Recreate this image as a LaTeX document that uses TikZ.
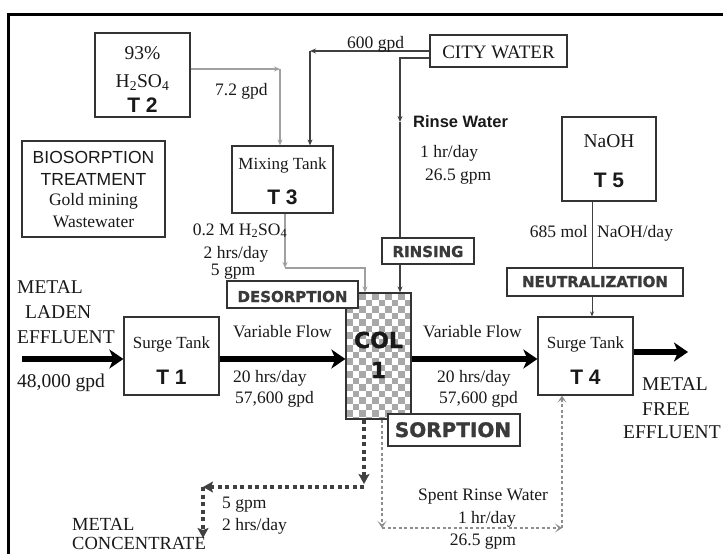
\documentclass[tikz,border=0pt]{standalone}
\usepackage{fontspec}
\setmainfont{Liberation Serif}
\setsansfont{Liberation Sans}
\newfontfamily\heavyfont{DejaVu Sans}[BoldFeatures={FakeBold=1.2}]
\usetikzlibrary{arrows.meta}
\definecolor{lg}{HTML}{A0A0A0}
\definecolor{dg}{HTML}{404040}
\definecolor{bx}{HTML}{333333}
\definecolor{sg}{HTML}{8E8E8E}
\definecolor{cb}{HTML}{A8A8A8}
\definecolor{hv}{HTML}{3A3A3A}
\newcommand\fs[1]{\fontsize{#1}{#1}\selectfont}
\tikzset{
  box/.style={draw=bx, line width=1.2pt, fill=white, inner sep=0pt},
  tx/.style={inner sep=0pt, anchor=base, text=black!90},
  txl/.style={tx, anchor=base west},
  txr/.style={tx, anchor=base east},
  ser/.style={font=\fs{17.5}},
  serb/.style={font=\fs{19.5}},
  tank/.style={font=\sffamily\bfseries\fs{21}},
  heavy/.style={font=\heavyfont\bfseries\fs{15}, text=hv},
  big/.style={line width=6.5pt, -{Stealth[length=14pt,width=19pt,inset=4pt]}},
  grayarr/.style={draw=lg, line width=1.5pt, -{Stealth[length=6pt,width=5pt]}},
  darr/.style={draw=dg, line width=2pt, -{Stealth[length=6pt,width=5pt]}},
  thinarr/.style={draw=dg, line width=1pt, -{Stealth[length=5pt,width=4pt]}},
  concarr/.style={draw=dg, line width=4pt, dash pattern=on 4pt off 3.5pt, -{Stealth[length=10pt,width=11pt,inset=2pt]}},
  spentarr/.style={draw=sg, line width=2.8pt, dash pattern=on 3pt off 2.5pt, -{Stealth[length=7pt,width=9pt,inset=3.5pt]}}
}
\begin{document}
\begin{tikzpicture}[x=1pt,y=-1pt]
\useasboundingbox (0,0) rectangle (723,554);
% frame
\draw[line width=3pt] (8.5,554) -- (8.5,14) -- (723,14);

% boxes
\node[box, minimum width=95pt, minimum height=84pt] (t2) at (142.5,75) {};
\node[box, line width=1.8pt, minimum width=143pt, minimum height=96pt] (bio) at (93.5,189) {};
\node[box, minimum width=101pt, minimum height=67pt] (t3) at (282.5,179.5) {};
\node[box, minimum width=137pt, minimum height=32pt] (city) at (498.5,51) {};
\node[box, minimum width=94pt, minimum height=84pt] (t5) at (609,159) {};
\node[box, minimum width=92pt, minimum height=26pt] (rins) at (428,251) {};
\node[box, minimum width=176pt, minimum height=28pt] (neut) at (595,282) {};
\node[box, minimum width=95pt, minimum height=78pt] (t1) at (171.5,356) {};
\node[box, minimum width=95pt, minimum height=78pt] (t4) at (585.5,356) {};

% column
\begin{scope}
\clip (346,293) rectangle (411,419);
\fill[white] (346,293) rectangle (411,419);
\foreach \j in {0,...,19}{
  \foreach \i in {0,2,...,10}{
    \fill[cb] ({346+(\i+mod(\j,2))*6.5},{293+\j*6.5}) rectangle +(6.5,6.5);
  }
}
\end{scope}
\node[draw=bx, line width=1.2pt, minimum width=65pt, minimum height=126pt, inner sep=0pt] (col) at (378.5,356) {};

% coordinates
\coordinate (c1) at (280,69);
\coordinate (c2) at (310,51);
\coordinate (c3) at (400,58);
\coordinate (c4) at (400,122);
\coordinate (c5) at (285,268);
\coordinate (c6) at (365,268);
\coordinate (nx) at (592,0);
\coordinate (in0) at (22,359);
\coordinate (out) at (688,352);
\coordinate (m1) at (364,484);
\coordinate (m2) at (203,487);
\coordinate (m3) at (203,538);
\coordinate (s1) at (382,528);
\coordinate (s2) at (562,528);

% acid lines
\draw[grayarr] (t2.east |- c1) -- (c1);
\draw[grayarr] (c1) -- (c1 |- t3.north);
\draw[grayarr] (c5 |- t3.south) -- (c5);
\draw[grayarr] (c5) -- (c6) -- (c6 |- col.north);

% city water lines
\draw[darr] (city.west |- c2) -- (c2);
\draw[darr] (c2) -- (c2 |- t3.north);
\draw[darr] (city.west |- c3) -- (c3) -- (c4);
\draw[draw=dg, line width=2pt] (c4) -- (c4 |- rins.north);
\draw[darr] (c4 |- rins.south) -- (c4 |- col.north);

% NaOH line
\draw[draw=dg, line width=1pt] (nx |- t5.south) -- (nx |- neut.north);
\draw[thinarr] (nx |- neut.south) -- (nx |- t4.north);

% main flow
\draw[big] (in0) -- (in0 -| t1.west);
\draw[big] (t1.east |- in0) -- (col.west |- in0);
\draw[big] (col.east |- in0) -- (t4.west |- in0);
\draw[big] (t4.east |- out) -- (out);

% concentrate
\draw[concarr] (m1 |- col.south) -- (m1);
\draw[concarr] (m2 -| m1) -- (m2);
\draw[concarr] (m2) -- (m3);

% spent rinse
\draw[spentarr] (s1 |- col.south) -- (s1);
\draw[spentarr] (s1) -- (s2);
\draw[spentarr] (s2) -- (s2 |- t4.south);

% overlay label boxes
\node[box, minimum width=131pt, minimum height=27pt] (des) at (292.5,294.5) {};
\node[box, minimum width=132pt, minimum height=32pt] (sorp) at (454,430) {};

% texts
\node[tx, serb] (t2a) at (142.5,59) {93\%};
\node[tx, serb] (t2b) at (142.5,87) {H\textsubscript{2}SO\textsubscript{4}};
\node[tx, tank] (t2c) at (142.5,112) {T 2};

\node[tx, font=\sffamily\fs{17.5}] (bioa) at (93.5,163) {BIOSORPTION};
\node[tx, font=\sffamily\fs{17.5}] (biob) at (93.5,185) {TREATMENT};
\node[tx, ser] (bioc) at (93.5,205) {Gold mining};
\node[tx, ser] (biod) at (93.5,227) {Wastewater};

\node[tx, font=\fs{17}] (t3a) at (282.5,169) {Mixing Tank};
\node[tx, tank] (t3b) at (282.5,204) {T 3};

\node[txl, ser] (l72) at (215,95) {7.2 gpd};
\node[tx, ser] (lacid) at (240,235) {0.2 M H\textsubscript{2}SO\textsubscript{4}};
\node[tx, ser] (lacid2) at (236,258) {2 hrs/day};
\node[tx, ser] (lacid3) at (233,275) {5 gpm};

\node[txl, ser] (l600) at (347,48) {600 gpd};
\node[tx, font=\fs{19}] (citya) at (498.5,58) {CITY WATER};

\node[txl, font=\sffamily\bfseries\fs{16.5}] (rw) at (413,127) {Rinse Water};
\node[txl, ser] (rw1) at (420,157) {1 hr/day};
\node[txl, ser] (rw2) at (425,180) {26.5 gpm};

\node[tx, serb] (t5a) at (609,147) {NaOH};
\node[tx, tank] (t5b) at (609,187) {T 5};
\node[txr, ser] (na1) at (588,237) {685 mol};
\node[txl, ser] (na2) at (597,237) {NaOH/day};

\node[tx, heavy] (rinsa) at (428,257) {RINSING};
\node[tx, heavy] (neuta) at (595,287) {NEUTRALIZATION};
\node[tx, heavy] (desa) at (292.5,302) {DESORPTION};
\node[tx, heavy, font=\heavyfont\bfseries\fs{20}] (sorpa) at (453,437) {SORPTION};
\node[tx, font=\heavyfont\bfseries\fs{22}] (cola) at (378.5,348) {COL};
\node[tx, font=\heavyfont\bfseries\fs{22}] (colb) at (378.5,378) {1};

\node[txl, serb] (in1) at (17,293) {METAL};
\node[txl, serb] (in2) at (25,318) {LADEN};
\node[txl, serb] (in3) at (17,343) {EFFLUENT};
\node[txl, serb] (in4) at (17,387) {48,000 gpd};

\node[tx, font=\fs{17}] (t1a) at (171.5,348) {Surge Tank};
\node[tx, tank] (t1b) at (171.5,384) {T 1};
\node[tx, font=\fs{17}] (t4a) at (585.5,348) {Surge Tank};
\node[tx, tank] (t4b) at (585.5,384) {T 4};

\node[txl, ser] (vf1) at (233,337) {Variable Flow};
\node[txl, ser] (vf2) at (233,382) {20 hrs/day};
\node[txl, ser] (vf3) at (235,403) {57,600 gpd};
\node[txl, ser] (vr1) at (423,337) {Variable Flow};
\node[txl, ser] (vr2) at (437,382) {20 hrs/day};
\node[txl, ser] (vr3) at (439,403) {57,600 gpd};

\node[txl, serb] (o1) at (642,390) {METAL};
\node[txl, serb] (o2) at (642,415) {FREE};
\node[txl, serb] (o3) at (623,438) {EFFLUENT};

\node[txl, ser] (mc1) at (222,508) {5 gpm};
\node[txl, ser] (mc2) at (222,530) {2 hrs/day};
\node[txl, font=\fs{18.5}] (mc3) at (72,530.5) {METAL};
\node[txl, font=\fs{18.5}] (mc4) at (72,549.5) {CONCENTRATE};

\node[txl, ser] (sp1) at (418,500) {Spent Rinse Water};
\node[tx, ser] (sp2) at (487,523) {1 hr/day};
\node[tx, ser] (sp3) at (483,545) {26.5 gpm};
\end{tikzpicture}
\end{document}
